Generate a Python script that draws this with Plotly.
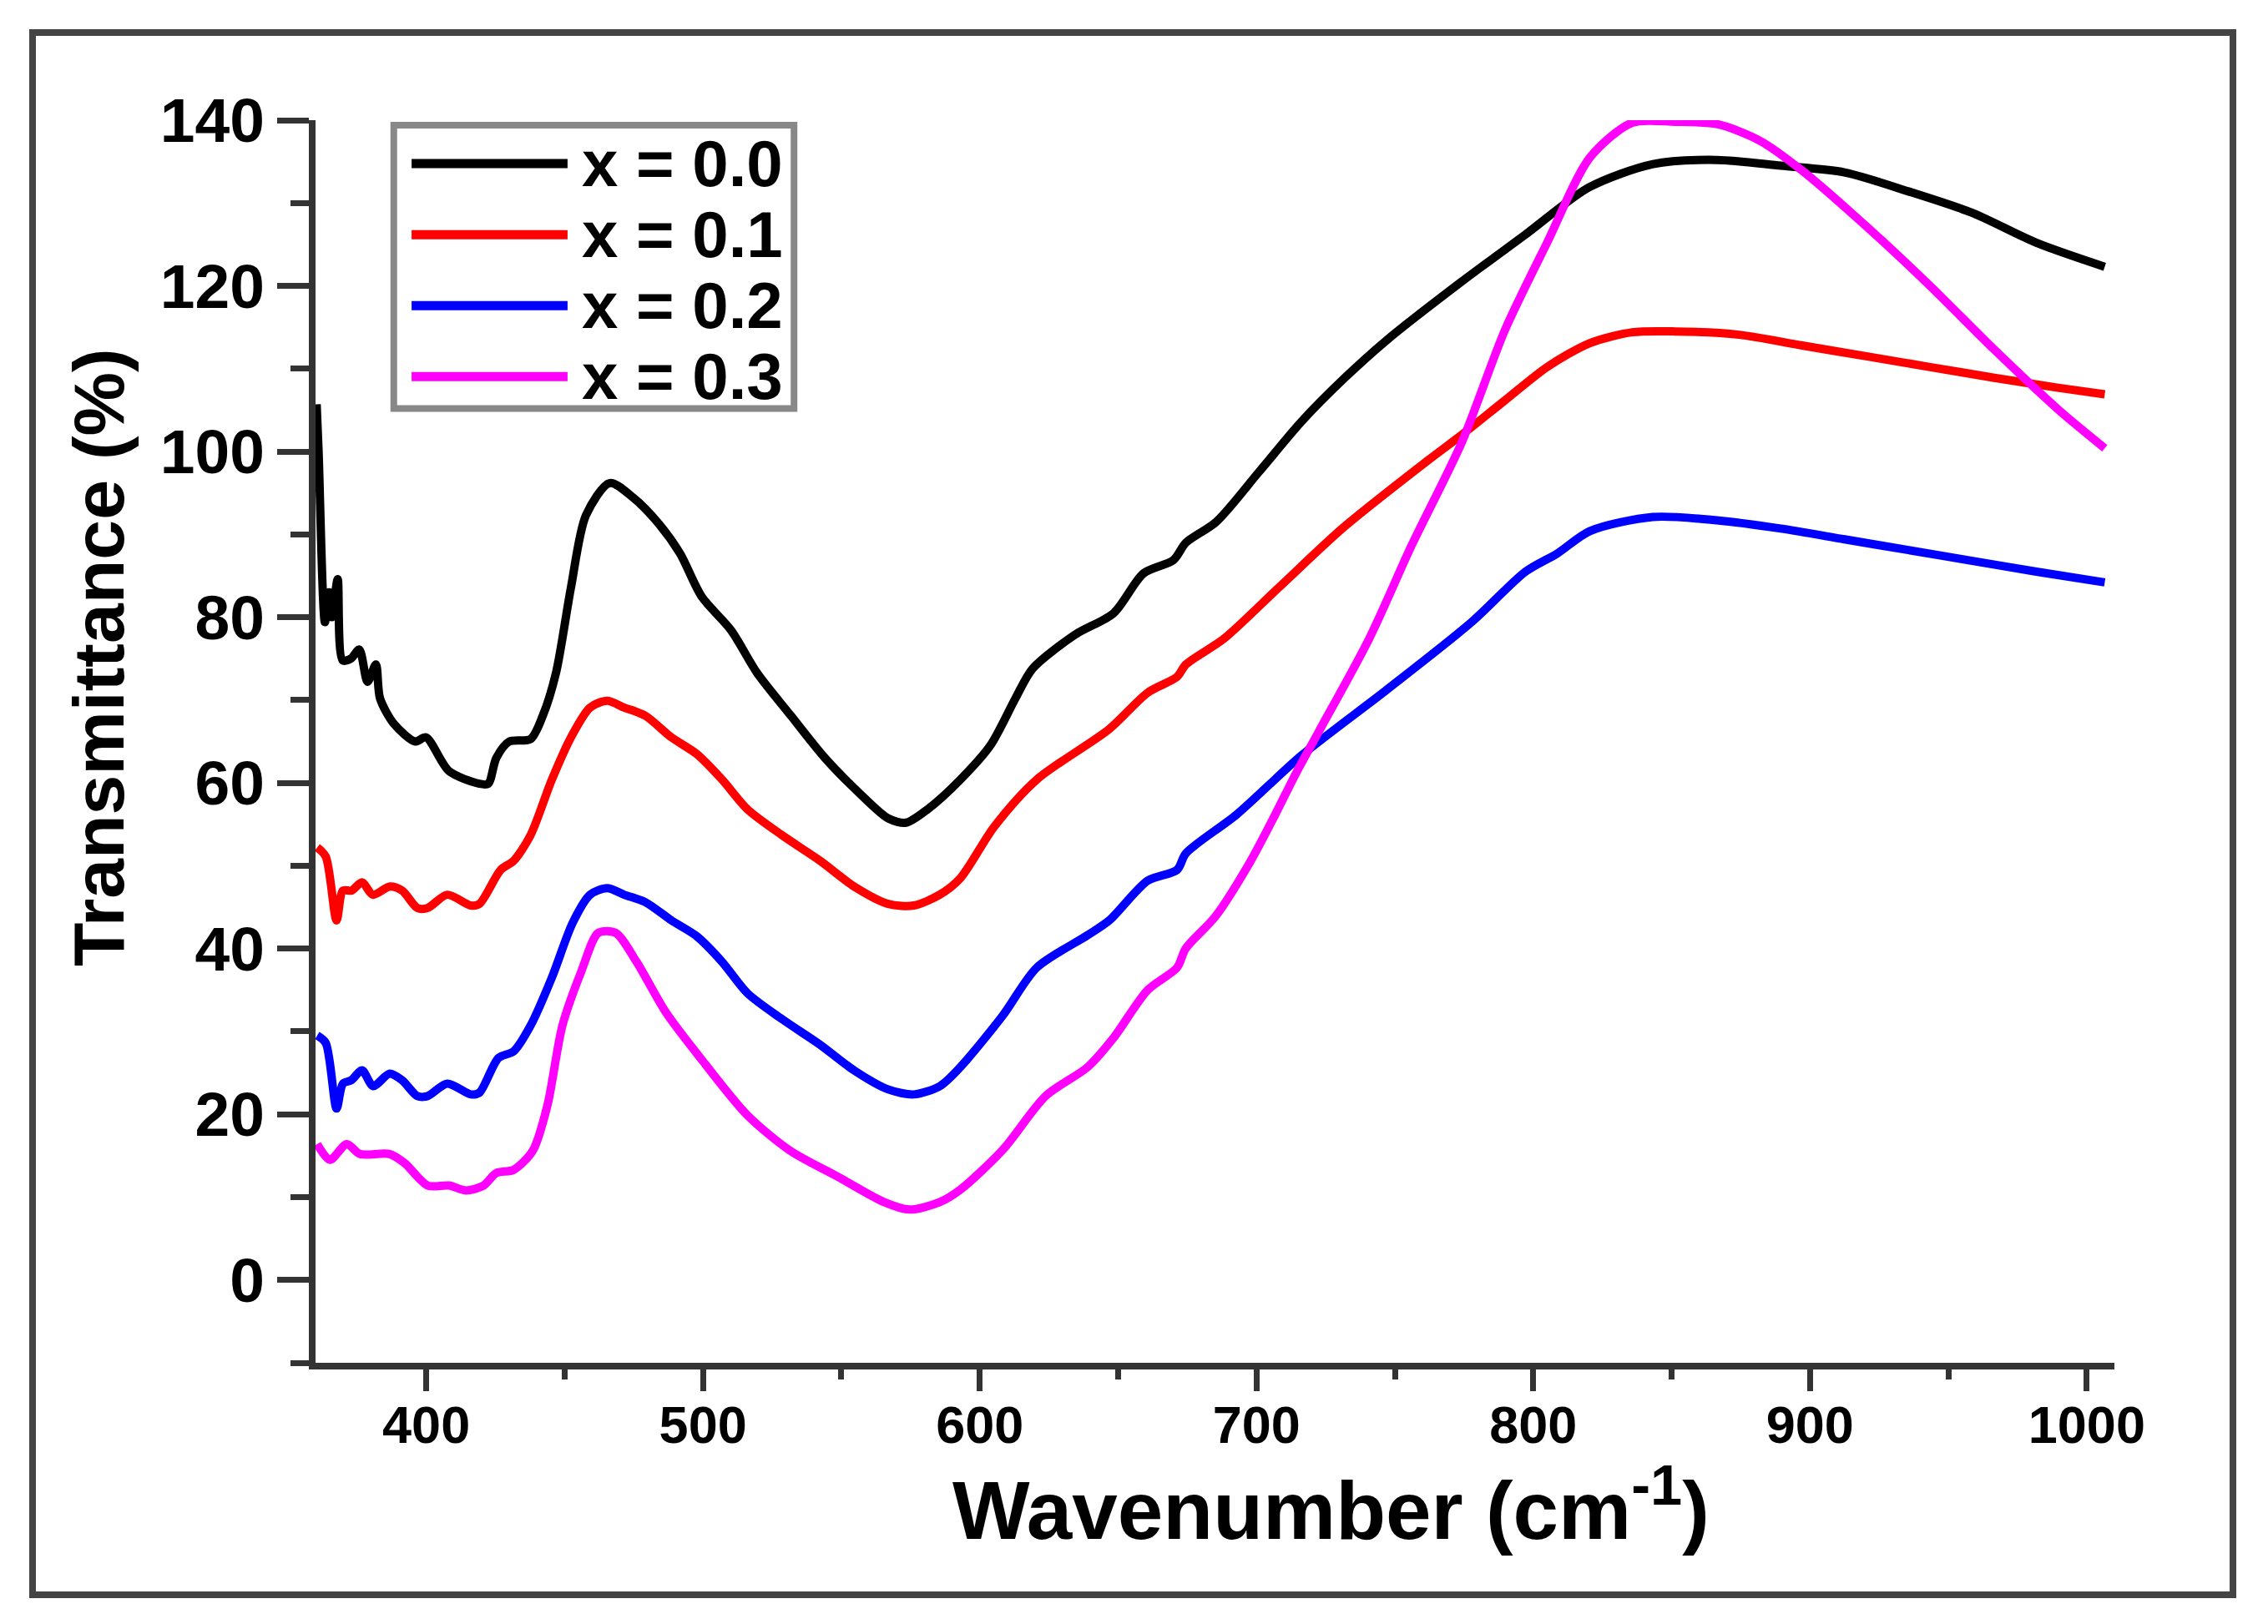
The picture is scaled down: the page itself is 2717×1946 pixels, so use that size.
import plotly.graph_objects as go

# FTIR transmittance spectra
labels = ["x = 0.0", "x = 0.1", "x = 0.2", "x = 0.3"]
colors = ["#000000", "#ff0000", "#0000ff", "#ff00ff"]

wn_00 = [360.4, 361.1, 363.4, 364.9, 365.9, 368.0, 369.8, 372.8, 375.8, 378.8, 381.8, 383.3,
         388.4, 396.0, 399.9, 408.3, 419.2, 422.4, 425.3, 430.0, 437.7, 442.1, 446.9, 452.3,
         457.7, 466.3, 474.9, 484.0, 491.7, 499.5, 510.2, 519.5, 531.8, 544.1, 556.4, 567.0,
         573.4, 581.1, 593.0, 603.8, 612.9, 619.1, 634.5, 648.4, 659.2, 670.0, 674.5, 685.4,
         700.8, 716.2, 731.6, 746.9, 774.1, 797.2, 820.2, 843.3, 866.4, 889.5, 912.5, 935.6,
         958.7, 981.8, 1006.5]
tr_00 = [105.7, 100.0, 79.4, 83.0, 80.0, 84.6, 74.8, 75.0, 76.1, 72.2, 74.3, 70.2,
         67.1, 65.0, 65.5, 61.4, 59.9, 59.9, 63.0, 65.0, 65.3, 68.1, 73.3, 83.6,
         92.3, 96.2, 94.4, 91.3, 87.7, 82.5, 78.4, 73.3, 68.1, 63.0, 58.8, 55.7,
         55.2, 56.8, 60.4, 64.5, 70.2, 73.8, 77.9, 80.5, 85.3, 86.9, 89.0, 91.5,
         97.5, 103.6, 108.8, 113.4, 120.5, 126.2, 131.9, 134.7, 135.2, 134.5, 133.7, 131.4,
         128.8, 125.2, 122.3]

wn_01 = [360.6, 363.7, 367.6, 369.9, 373.0, 376.8, 380.7, 386.9, 391.3, 396.8, 400.5, 407.6,
         416.1, 419.2, 426.9, 431.6, 437.7, 445.4, 452.3, 459.2, 465.4, 471.5, 479.2, 488.6,
         497.7, 506.9, 516.1, 528.5, 542.3, 554.6, 566.9, 576.2, 585.5, 593.0, 605.2, 620.6,
         646.8, 660.7, 671.3, 674.5, 688.2, 708.1, 731.3, 762.2, 774.1, 789.5, 805.0, 820.5,
         835.8, 851.3, 874.4, 897.2, 920.3, 943.4, 966.6, 989.6, 1006.5]
tr_01 = [52.2, 51.1, 43.4, 47.0, 47.0, 48.0, 46.5, 47.5, 47.0, 44.9, 44.9, 46.5,
         45.2, 45.4, 49.5, 50.6, 53.7, 60.4, 65.5, 69.1, 69.9, 69.1, 68.1, 65.5,
         63.5, 60.4, 56.8, 53.7, 50.6, 47.5, 45.4, 45.2, 46.5, 48.5, 54.7, 60.4,
         66.5, 70.9, 72.8, 74.3, 77.4, 83.6, 90.8, 99.0, 102.0, 106.1, 110.2, 113.1,
         114.4, 114.5, 114.1, 112.8, 111.5, 110.2, 108.9, 107.7, 106.9]

wn_02 = [360.6, 363.7, 367.6, 369.9, 372.9, 376.8, 380.8, 386.8, 391.3, 396.8, 400.5, 407.6,
         416.1, 419.2, 426.1, 431.6, 437.7, 445.4, 452.9, 459.2, 465.4, 471.5, 479.2, 488.6,
         497.7, 506.9, 516.1, 528.5, 542.3, 554.6, 566.9, 576.2, 585.6, 593.0, 608.3, 620.6,
         638.9, 646.8, 660.7, 671.3, 674.5, 692.9, 716.2, 746.9, 777.7, 797.2, 808.7, 820.5,
         843.2, 866.4, 889.5, 912.5, 935.6, 958.7, 981.8, 1006.5]
tr_02 = [29.5, 28.6, 20.7, 23.7, 24.1, 25.3, 23.4, 24.9, 24.1, 22.2, 22.2, 23.7,
         22.4, 22.6, 26.8, 27.6, 30.7, 36.5, 43.1, 46.5, 47.3, 46.5, 45.6, 43.4,
         41.5, 38.4, 34.6, 31.5, 28.4, 25.3, 23.0, 22.4, 23.4, 25.7, 31.9, 37.7,
         41.6, 43.4, 48.2, 49.5, 51.5, 56.2, 63.3, 71.2, 79.4, 85.5, 87.7, 90.4,
         92.1, 91.7, 90.7, 89.4, 88.1, 86.8, 85.5, 84.2]

wn_03 = [360.6, 365.2, 371.3, 376.0, 386.8, 392.2, 400.5, 408.2, 414.4, 420.7, 425.3, 431.6,
         438.5, 443.8, 449.2, 456.1, 462.2, 468.4, 476.0, 486.8, 500.7, 516.0, 531.5, 548.5,
         565.4, 574.6, 585.6, 593.0, 608.3, 623.8, 639.0, 648.3, 660.7, 671.3, 674.4, 685.2,
         697.6, 706.8, 714.5, 722.2, 740.7, 756.1, 774.3, 789.7, 805.0, 820.5, 835.8, 851.3,
         866.7, 882.0, 897.2, 920.3, 943.4, 966.6, 989.6, 1006.5]
tr_03 = [16.4, 14.5, 16.4, 15.2, 15.2, 14.1, 11.4, 11.4, 10.8, 11.4, 12.9, 13.3,
         15.6, 21.1, 30.7, 37.3, 41.9, 41.9, 38.4, 32.2, 26.1, 19.9, 15.6, 12.5,
         9.4, 8.5, 9.4, 10.9, 15.7, 22.2, 25.7, 29.2, 35.0, 37.7, 40.0, 43.9,
         50.4, 56.2, 61.3, 66.0, 77.4, 88.7, 101.2, 114.6, 125.2, 135.5, 139.7, 139.8,
         139.5, 137.5, 133.9, 127.2, 120.0, 112.3, 105.1, 100.4]

series = [(wn_00, tr_00), (wn_01, tr_01), (wn_02, tr_02), (wn_03, tr_03)]

FONT = "Liberation Sans, Arial, sans-serif"
AX = "#333333"

fig = go.Figure()
for (xs, ys), name, col in zip(series, labels, colors):
    fig.add_trace(go.Scatter(x=xs, y=ys, mode="lines", name=name, showlegend=False,
                             line=dict(color=col, width=10, shape="spline", smoothing=0.8)))

# page body has an 8px margin, so the figure is a bit smaller than the window
fig.update_layout(
    width=2701, height=1930, autosize=False,
    margin=dict(l=370, r=176, t=136, b=305),
    paper_bgcolor="white", plot_bgcolor="white",
    font=dict(family=FONT, color="black", size=70, weight="bold"),
)

fig.update_xaxes(range=[360, 1010], showgrid=False, zeroline=False,
                 showline=True, linewidth=8, linecolor=AX,
                 tickmode="linear", tick0=400, dtick=100,
                 ticks="outside", ticklen=26, tickwidth=7, tickcolor=AX,
                 ticklabelstandoff=-14,
                 tickfont=dict(family=FONT, size=63, color="black", weight="bold"),
                 minor=dict(dtick=50, tick0=400, ticks="outside", ticklen=12,
                            tickwidth=7, tickcolor=AX))
fig.update_yaxes(range=[-10, 140], showgrid=False, zeroline=False,
                 showline=True, linewidth=8, linecolor=AX,
                 tickmode="linear", tick0=0, dtick=20,
                 ticks="outside", ticklen=38, tickwidth=7, tickcolor=AX,
                 ticklabelstandoff=0,
                 tickfont=dict(family=FONT, size=75, color="black", weight="bold"),
                 minor=dict(dtick=10, tick0=0, ticks="outside", ticklen=22,
                            tickwidth=7, tickcolor=AX))

# axis titles placed as in the original figure
fig.add_annotation(text="Transmittance (%)", xref="paper", yref="paper",
                   x=-0.1206, y=0.5675, textangle=-90, showarrow=False,
                   xanchor="center", yanchor="middle",
                   font=dict(family=FONT, size=86, color="black", weight="bold"))
fig.add_annotation(text="Wavenumber (cm<sup>-1</sup>)", xref="paper", yref="paper",
                   x=0.5643, y=-0.114, showarrow=False,
                   xanchor="center", yanchor="middle",
                   font=dict(family=FONT, size=98, color="black", weight="bold"))

# outer frame
fig.add_shape(type="rect", xref="paper", yref="paper",
              x0=-0.1573, x1=1.0659, y0=-0.1867, y1=1.0705,
              line=dict(color="#444444", width=8), fillcolor="rgba(0,0,0,0)")

# legend box drawn by hand (long line samples)
fig.add_shape(type="rect", xref="paper", yref="paper",
              x0=0.0435, x1=0.2660, y0=0.7680, y1=0.9960,
              line=dict(color="#888888", width=8), fillcolor="white")
for i, (name, col) in enumerate(zip(labels, colors)):
    yy = 0.9650 - i * 0.0571
    fig.add_shape(type="line", xref="paper", yref="paper",
                  x0=0.0534, x1=0.1401, y0=yy, y1=yy,
                  line=dict(color=col, width=11))
    fig.add_annotation(text=name, xref="paper", yref="paper", x=0.1471, y=yy,
                       xanchor="left", yanchor="middle", showarrow=False,
                       font=dict(family=FONT, size=78, color="black", weight="bold"))

fig.write_html("out.html")
